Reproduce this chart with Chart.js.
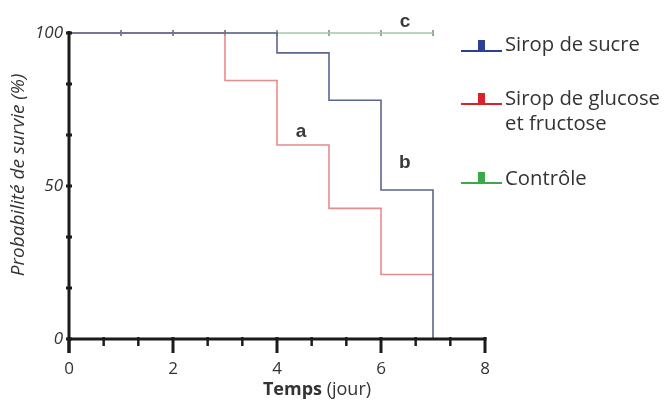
<!DOCTYPE html>
<html>
<head>
<meta charset="utf-8">
<script src="https://cdn.jsdelivr.net/npm/chart.js@4.4.1/dist/chart.umd.min.js"></script>
<style>
  body { margin: 0; background: #fff; }
  #wrap { position: relative; width: 666px; height: 401px; }
  #legend { position: absolute; left: 0; top: 0; font-family: 'Open Sans', sans-serif; font-size: 20.3px; color: #333; }
  .item { position: absolute; left: 505px; line-height: 25px; white-space: nowrap; }
  .icon { position: absolute; width: 41px; height: 12px; }
  .icon .ln { position: absolute; left: 0; right: 0; bottom: 0; height: 2.5px; }
  .icon .blk { position: absolute; left: 17px; bottom: 0; width: 7px; height: 12px; }
</style>
</head>
<body>
<div id="wrap">
  <canvas id="survieChart" width="666" height="401"></canvas>
  <div id="legend">
    <div class="icon" style="left:461px; top:40px;"><div class="ln" style="background:#2b3f95"></div><div class="blk" style="background:#2b3f95"></div></div>
    <div class="item" style="top:31px;">Sirop de sucre</div>
    <div class="icon" style="left:461px; top:93px;"><div class="ln" style="background:#d8232a"></div><div class="blk" style="background:#d8232a"></div></div>
    <div class="item" style="top:85px;">Sirop de glucose<br>et fructose</div>
    <div class="icon" style="left:461px; top:172px;"><div class="ln" style="background:#3aaa48"></div><div class="blk" style="background:#3aaa48"></div></div>
    <div class="item" style="top:165px;">Contrôle</div>
  </div>
</div>
<script>
// --- Data ---
const sucreDays = [0, 4, 5, 6, 7];
const sucreSurvie = [100, 93.5, 78, 48.7, 0];

const glucoseDays = [0, 3, 4, 5, 6, 7];
const glucoseSurvie = [100, 84.5, 63.4, 42.7, 21.1, 21.1];

const controleDays = [0, 7];
const controleSurvie = [100, 100];

// censored observations (small marks on the 100 % line)
const censorSucreDays = [1, 2, 3];
const censorControleDays = [4, 5, 6, 7];

const xTickValues = [0, 2, 4, 6, 8];
const yTickValues = [0, 50, 100];

// group letters
const letters = [
    { text: 'a', x: 4.46, y: 67.6 },
    { text: 'b', x: 6.46, y: 57.5 },
    { text: 'c', x: 6.46, y: 103.6 }
];

const toPoints = (xs, ys) => xs.map((x, i) => ({ x: x, y: ys[i] }));

// axes, ticks, titles and letters
const decorPlugin = {
    id: 'decor',
    afterDraw(chart) {
        const c = chart.ctx;
        const xs = chart.scales.x;
        const ys = chart.scales.y;
        const area = chart.chartArea;
        c.save();
        c.strokeStyle = '#1b1b1b';
        c.lineCap = 'butt';

        // y axis
        c.lineWidth = 3;
        c.beginPath();
        c.moveTo(area.left, area.top - 2);
        c.lineTo(area.left, area.bottom + 14);
        c.stroke();
        // x axis
        c.beginPath();
        c.moveTo(area.left, area.bottom);
        c.lineTo(area.right + 1.5, area.bottom);
        c.stroke();

        // x ticks every 2/3 day, longer on labelled ones
        for (let k = 0; k <= 12; k++) {
            const px = xs.getPixelForValue(k * 2 / 3);
            const major = k % 3 === 0;
            c.lineWidth = major ? 3 : 2.5;
            c.beginPath();
            c.moveTo(px, area.bottom - 2);
            c.lineTo(px, area.bottom + (major ? 14 : 7));
            c.stroke();
        }
        // y ticks every 50/3 %
        for (let k = 0; k <= 6; k++) {
            const py = ys.getPixelForValue(k * 50 / 3);
            c.lineWidth = 3;
            c.beginPath();
            c.moveTo(area.left - 3, py);
            c.lineTo(area.left + 3, py);
            c.stroke();
        }

        // axis titles
        c.fillStyle = '#333';
        c.textBaseline = 'middle';
        const t1 = 'Temps';
        const t2 = ' (jour)';
        c.font = 'bold 18px "Open Sans"';
        const w1 = c.measureText(t1).width;
        c.font = '18px "Open Sans"';
        const w2 = c.measureText(t2).width;
        const startX = 317 - (w1 + w2) / 2;
        c.textAlign = 'left';
        c.font = 'bold 18px "Open Sans"';
        c.fillText(t1, startX, 390);
        c.font = '18px "Open Sans"';
        c.fillText(t2, startX + w1, 390);

        c.save();
        c.translate(19, 175);
        c.rotate(-Math.PI / 2);
        c.textAlign = 'center';
        c.font = 'italic 19px "Open Sans"';
        c.fillText('Probabilité de survie (%)', 0, 0);
        c.restore();

        // letters
        c.fillStyle = '#3a3a3a';
        c.textAlign = 'center';
        c.font = 'bold 19px "Liberation Sans"';
        letters.forEach(l => {
            c.fillText(l.text, xs.getPixelForValue(l.x), ys.getPixelForValue(l.y));
        });
        c.restore();
    }
};

const ctx = document.getElementById('survieChart');
new Chart(ctx, {
    type: 'scatter',
    data: {
        datasets: [
            {
                label: 'Sirop de sucre',
                data: toPoints(sucreDays, sucreSurvie),
                showLine: true,
                stepped: true,
                borderColor: '#5b6592',
                borderWidth: 1.6,
                pointRadius: 0,
                clip: 6
            },
            {
                label: 'Sirop de glucose et fructose',
                data: toPoints(glucoseDays, glucoseSurvie),
                showLine: true,
                stepped: true,
                borderColor: '#e58c8c',
                borderWidth: 1.6,
                pointRadius: 0,
                clip: 6
            },
            {
                label: 'Contrôle',
                data: toPoints(controleDays, controleSurvie),
                showLine: true,
                stepped: true,
                borderColor: '#a6c8a4',
                borderWidth: 1.6,
                pointRadius: 0,
                clip: 6
            },
            {
                label: 'censure sucre',
                data: censorSucreDays.map(d => ({ x: d, y: 100 })),
                pointStyle: 'line',
                rotation: 90,
                pointRadius: 3,
                borderColor: '#7d86a6',
                borderWidth: 2,
                clip: 6
            },
            {
                label: 'censure contrôle',
                data: censorControleDays.map(d => ({ x: d, y: 100 })),
                pointStyle: 'line',
                rotation: 90,
                pointRadius: 3,
                borderColor: '#8fae8e',
                borderWidth: 2,
                clip: 6
            }
        ]
    },
    options: {
        responsive: false,
        animation: false,
        devicePixelRatio: 1,
        layout: { padding: { left: 0, right: 181, top: 33, bottom: 0 } },
        plugins: {
            legend: { display: false },
            tooltip: { enabled: false }
        },
        scales: {
            x: {
                type: 'linear',
                min: 0,
                max: 8,
                grid: { display: false, drawTicks: false },
                border: { display: false },
                afterBuildTicks: s => { s.ticks = xTickValues.map(v => ({ value: v })); },
                afterFit: s => { s.height = 62; },
                ticks: {
                    padding: 20,
                    color: '#333',
                    font: { family: 'Open Sans', size: 17 }
                }
            },
            y: {
                type: 'linear',
                min: 0,
                max: 100,
                grid: { display: false, drawTicks: false },
                border: { display: false },
                afterBuildTicks: s => { s.ticks = yTickValues.map(v => ({ value: v })); },
                afterFit: s => { s.width = 69; },
                ticks: {
                    padding: 6,
                    color: '#333',
                    font: { family: 'Open Sans', size: 17, style: 'italic' }
                }
            }
        }
    },
    plugins: [decorPlugin]
});
</script>
</body>
</html>
